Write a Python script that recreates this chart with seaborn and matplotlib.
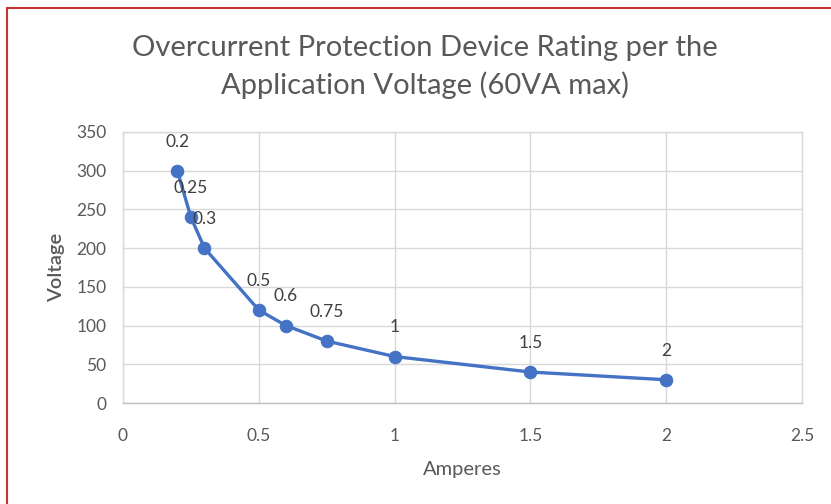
import matplotlib
matplotlib.use("Agg")
import matplotlib.pyplot as plt
import seaborn as sns
import pandas as pd
from matplotlib.lines import Line2D

amperes = [0.2, 0.25, 0.3, 0.5, 0.6, 0.75, 1, 1.5, 2]
voltage = [300, 240, 200, 120, 100, 80, 60, 40, 30]
point_labels = ["0.2", "0.25", "0.3", "0.5", "0.6", "0.75", "1", "1.5", "2"]
x_ticks = [0, 0.5, 1, 1.5, 2, 2.5]
x_tick_labels = ["0", "0.5", "1", "1.5", "2", "2.5"]
y_ticks = [0, 50, 100, 150, 200, 250, 300, 350]

sns.set_theme(style="white")
plt.rcParams["font.family"] = ["Lato", "DejaVu Sans"]

text_gray = "#595959"
blue = "#4472C4"
grid_gray = "#d9d9d9"

df = pd.DataFrame({"Amperes": amperes, "Voltage": voltage})

fig = plt.figure(figsize=(8.31, 5.04), dpi=100)
fig.patch.set_facecolor("white")
ax = fig.add_axes([123 / 831, 101 / 504, 679 / 831, 271 / 504])

sns.lineplot(data=df, x="Amperes", y="Voltage", ax=ax, color=blue,
             linewidth=2.4, marker="o", markersize=9,
             markeredgecolor=blue, markerfacecolor=blue, sort=False)

for xv, yv, lab in zip(amperes, voltage, point_labels):
    ax.annotate(lab, (xv, yv), xytext=(0, 21), textcoords="offset points",
                ha="center", va="center", fontsize=12.5, color="#404040")

ax.set_xlim(0, 2.5)
ax.set_ylim(0, 350)
ax.set_xticks(x_ticks)
ax.set_xticklabels(x_tick_labels)
ax.set_yticks(y_ticks)
ax.grid(True, color=grid_gray, linewidth=1)
ax.set_axisbelow(True)
for side, sp in ax.spines.items():
    sp.set_visible(True)
    sp.set_color(grid_gray)
    sp.set_linewidth(1)
ax.spines["bottom"].set_color("#bfbfbf")
ax.tick_params(axis="both", length=0, labelsize=12.5, colors=text_gray)
ax.tick_params(axis="x", pad=18)
ax.tick_params(axis="y", pad=12)

ax.set_xlabel("Amperes", fontsize=14.5, color=text_gray, labelpad=12)
ax.set_ylabel("Voltage", fontsize=14.5, color=text_gray, labelpad=8,
              fontweight="semibold")

fig.text(425 / 831, 1 - 67 / 504,
         "Overcurrent Protection Device Rating per the\nApplication Voltage (60VA max)",
         ha="center", va="center", fontsize=21, color=text_gray, linespacing=1.5)

# frame around the chart object
red = "#c8312f"
fig.add_artist(Line2D([7 / 831, 1.0], [1 - 8 / 504, 1 - 8 / 504],
                      transform=fig.transFigure, color=red, linewidth=1.5))
fig.add_artist(Line2D([7 / 831, 7 / 831], [0, 1 - 8 / 504],
                      transform=fig.transFigure, color=red, linewidth=1.5))

fig.savefig("out.png", dpi=100)
